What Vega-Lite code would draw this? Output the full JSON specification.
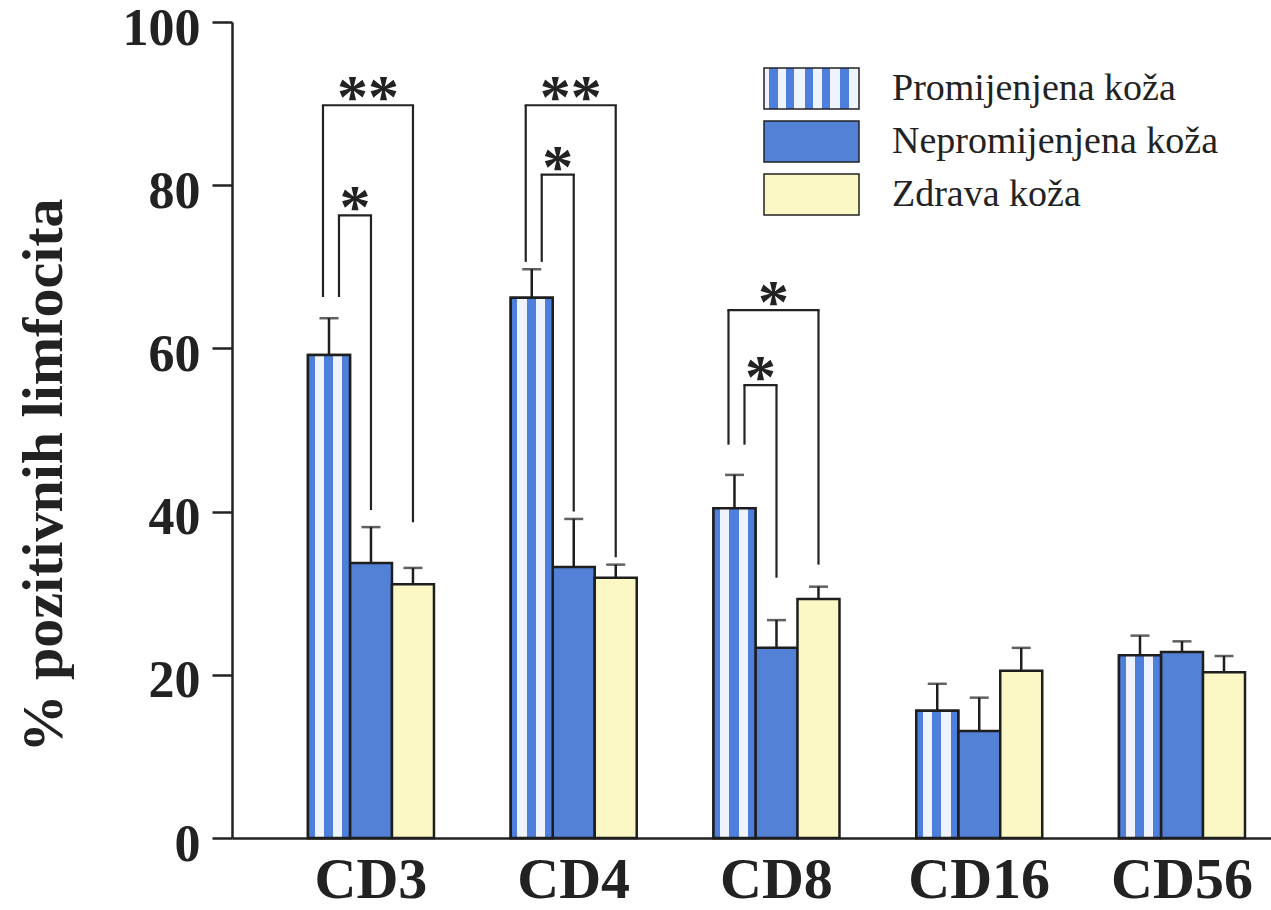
{
  "$schema": "https://vega.github.io/schema/vega-lite/v6.json",
  "width": 1039,
  "height": 816,
  "autosize": {"type": "none"},
  "padding": {"left": 232, "top": 22, "right": 0, "bottom": 72},
  "background": "white",
  "config": {
    "view": {"stroke": null},
    "font": "Liberation Serif",
    "axis": {"domainColor": "#222222", "domainWidth": 2.5, "tickColor": "#222222", "tickWidth": 2.5, "labelColor": "#222222", "titleColor": "#222222", "grid": false}
  },
  "datasets": {
    "bars": [
      {"marker": "CD3", "group": "Promijenjena koža", "mean": 59.2, "upper": 63.7},
      {"marker": "CD3", "group": "Nepromijenjena koža", "mean": 33.7, "upper": 38.1},
      {"marker": "CD3", "group": "Zdrava koža", "mean": 31.1, "upper": 33.1},
      {"marker": "CD4", "group": "Promijenjena koža", "mean": 66.2, "upper": 69.7},
      {"marker": "CD4", "group": "Nepromijenjena koža", "mean": 33.2, "upper": 39.1},
      {"marker": "CD4", "group": "Zdrava koža", "mean": 31.9, "upper": 33.5},
      {"marker": "CD8", "group": "Promijenjena koža", "mean": 40.4, "upper": 44.5},
      {"marker": "CD8", "group": "Nepromijenjena koža", "mean": 23.3, "upper": 26.7},
      {"marker": "CD8", "group": "Zdrava koža", "mean": 29.3, "upper": 30.8},
      {"marker": "CD16", "group": "Promijenjena koža", "mean": 15.6, "upper": 18.9},
      {"marker": "CD16", "group": "Nepromijenjena koža", "mean": 13.1, "upper": 17.2},
      {"marker": "CD16", "group": "Zdrava koža", "mean": 20.5, "upper": 23.3},
      {"marker": "CD56", "group": "Promijenjena koža", "mean": 22.4, "upper": 24.8},
      {"marker": "CD56", "group": "Nepromijenjena koža", "mean": 22.8, "upper": 24.1},
      {"marker": "CD56", "group": "Zdrava koža", "mean": 20.3, "upper": 22.3}
    ],
    "brackets": [
      {"marker": "CD3", "kind": "outer", "level": 89.8, "leftEnd": 66.3, "rightEnd": 38.7, "label": "**"},
      {"marker": "CD3", "kind": "inner", "level": 76.3, "leftEnd": 66.3, "rightEnd": 40.2, "label": "*"},
      {"marker": "CD4", "kind": "outer", "level": 89.8, "leftEnd": 70.6, "rightEnd": 34.4, "label": "**"},
      {"marker": "CD4", "kind": "inner", "level": 81.3, "leftEnd": 70.6, "rightEnd": 40.0, "label": "*"},
      {"marker": "CD8", "kind": "outer", "level": 64.7, "leftEnd": 48.2, "rightEnd": 33.5, "label": "*"},
      {"marker": "CD8", "kind": "inner", "level": 55.5, "leftEnd": 48.2, "rightEnd": 31.9, "label": "*"}
    ]
  },
  "encoding": {
    "x": {
      "field": "marker", "type": "nominal",
      "sort": ["CD3", "CD4", "CD8", "CD16", "CD56"],
      "scale": {"paddingInner": 0.3786, "paddingOuter": 0.2515, "align": 0.745},
      "axis": {"title": null, "ticks": false, "labelAngle": 0, "labelFontSize": 58, "labelFontWeight": "bold", "labelPadding": 13, "labelBaseline": "top"}
    }
  },
  "layer": [
    {
      "data": {"name": "bars"},
      "mark": {"type": "bar", "stroke": "#1e1e1e", "strokeWidth": 2.5, "opacity": 1},
      "encoding": {
        "xOffset": {"field": "group", "type": "nominal", "scale": {"domain": ["Promijenjena koža", "Nepromijenjena koža", "Zdrava koža"], "paddingInner": 0, "paddingOuter": 0}},
        "y": {
          "field": "mean", "type": "quantitative",
          "scale": {"domain": [0, 100], "nice": false},
          "axis": {"values": [0, 20, 40, 60, 80, 100], "tickSize": 20, "labelFontSize": 52, "labelFontWeight": "bold", "labelPadding": 12, "labelOffset": 6,
                   "title": "% pozitivnih limfocita", "titleFontSize": 58, "titleFontWeight": "bold", "titleAngle": -90, "titleBaseline": "alphabetic", "titleAlign": "center", "titleX": -171, "titleY": 453}
        },
        "color": {
          "field": "group", "type": "nominal",
          "scale": {
            "domain": ["Promijenjena koža", "Nepromijenjena koža", "Zdrava koža"],
            "range": [
              {"expr": "{gradient: 'linear', x1: 0, y1: 0, x2: 1, y2: 0, stops: [{offset: 0, color: '#eef3fd'}, {offset: 0.054, color: '#eef3fd'}, {offset: 0.054, color: '#4f7fdc'}, {offset: 0.143, color: '#4f7fdc'}, {offset: 0.143, color: '#eef3fd'}, {offset: 0.232, color: '#eef3fd'}, {offset: 0.232, color: '#4f7fdc'}, {offset: 0.321, color: '#4f7fdc'}, {offset: 0.321, color: '#eef3fd'}, {offset: 0.429, color: '#eef3fd'}, {offset: 0.429, color: '#4f7fdc'}, {offset: 0.518, color: '#4f7fdc'}, {offset: 0.518, color: '#eef3fd'}, {offset: 0.607, color: '#eef3fd'}, {offset: 0.607, color: '#4f7fdc'}, {offset: 0.696, color: '#4f7fdc'}, {offset: 0.696, color: '#eef3fd'}, {offset: 0.804, color: '#eef3fd'}, {offset: 0.804, color: '#4f7fdc'}, {offset: 0.893, color: '#4f7fdc'}, {offset: 0.893, color: '#eef3fd'}, {offset: 1, color: '#eef3fd'}]}"},
              "#5381d6",
              "#fbf8c6"
            ]
          },
          "legend": {
            "title": null, "orient": "none", "legendX": 531, "legendY": 40, "padding": 0,
            "symbolType": "M-1,-0.43H1V0.43H-1Z", "symbolSize": 9025,
            "symbolStrokeColor": "#222222", "symbolStrokeWidth": 1.5,
            "labelFont": "Liberation Serif", "labelFontSize": 38, "labelColor": "#222222", "labelOffset": 32,
            "clipHeight": 53, "rowPadding": 0, "labelLimit": 400
          }
        }
      }
    },
    {
      "data": {"name": "bars"},
      "transform": [{"filter": "datum.group === 'Promijenjena koža'"}],
      "mark": {"type": "bar", "stroke": "#1e1e1e", "strokeWidth": 2.5, "fill": {"gradient": "linear", "x1": 0, "y1": 0, "x2": 1, "y2": 0, "stops": [
                {"offset": 0, "color": "#4f7fdc"}, {"offset": 0.16, "color": "#4f7fdc"},
                {"offset": 0.16, "color": "#eef3fd"}, {"offset": 0.38, "color": "#eef3fd"},
                {"offset": 0.38, "color": "#4f7fdc"}, {"offset": 0.6, "color": "#4f7fdc"},
                {"offset": 0.6, "color": "#eef3fd"}, {"offset": 0.82, "color": "#eef3fd"},
                {"offset": 0.82, "color": "#4f7fdc"}, {"offset": 1, "color": "#4f7fdc"}
              ]}},
      "encoding": {
        "xOffset": {"field": "group", "type": "nominal"},
        "y": {"field": "mean", "type": "quantitative"}
      }
    },
    {
      "data": {"name": "bars"},
      "mark": {"type": "rule", "color": "#1e1e1e", "strokeWidth": 2.5},
      "encoding": {
        "xOffset": {"field": "group", "type": "nominal"},
        "y": {"field": "mean", "type": "quantitative"},
        "y2": {"field": "upper"}
      }
    },
    {
      "data": {"name": "bars"},
      "mark": {"type": "tick", "color": "#1e1e1e", "orient": "horizontal", "thickness": 2.5, "size": 19},
      "encoding": {
        "xOffset": {"field": "group", "type": "nominal"},
        "y": {"field": "upper", "type": "quantitative"}
      }
    },
    {
      "data": {"name": "brackets"},
      "transform": [{"filter": "datum.kind === 'outer'"}],
      "layer": [
        {"mark": {"type": "rule", "color": "#222222", "strokeWidth": 2.2, "xOffset": -48}, "encoding": {"y": {"field": "leftEnd", "type": "quantitative"}, "y2": {"field": "level"}}},
        {"mark": {"type": "rule", "color": "#222222", "strokeWidth": 2.2, "xOffset": 42}, "encoding": {"y": {"field": "rightEnd", "type": "quantitative"}, "y2": {"field": "level"}}},
        {"mark": {"type": "rule", "color": "#222222", "strokeWidth": 2.2, "strokeCap": "square", "xOffset": -48, "x2Offset": 42}, "encoding": {"x2": {"field": "marker"}, "y": {"field": "level", "type": "quantitative"}}},
        {"mark": {"type": "text", "fontSize": 62, "fontWeight": "bold", "color": "#222222", "baseline": "alphabetic", "xOffset": -3, "dy": 12}, "encoding": {"y": {"field": "level", "type": "quantitative"}, "text": {"field": "label"}}}
      ]
    },
    {
      "data": {"name": "brackets"},
      "transform": [{"filter": "datum.kind === 'inner'"}],
      "layer": [
        {"mark": {"type": "rule", "color": "#222222", "strokeWidth": 2.2, "xOffset": -32}, "encoding": {"y": {"field": "leftEnd", "type": "quantitative"}, "y2": {"field": "level"}}},
        {"mark": {"type": "rule", "color": "#222222", "strokeWidth": 2.2, "xOffset": 0}, "encoding": {"y": {"field": "rightEnd", "type": "quantitative"}, "y2": {"field": "level"}}},
        {"mark": {"type": "rule", "color": "#222222", "strokeWidth": 2.2, "strokeCap": "square", "xOffset": -32, "x2Offset": 0}, "encoding": {"x2": {"field": "marker"}, "y": {"field": "level", "type": "quantitative"}}},
        {"mark": {"type": "text", "fontSize": 62, "fontWeight": "bold", "color": "#222222", "baseline": "alphabetic", "xOffset": -16, "dy": 12}, "encoding": {"y": {"field": "level", "type": "quantitative"}, "text": {"field": "label"}}}
      ]
    }
  ]
}
